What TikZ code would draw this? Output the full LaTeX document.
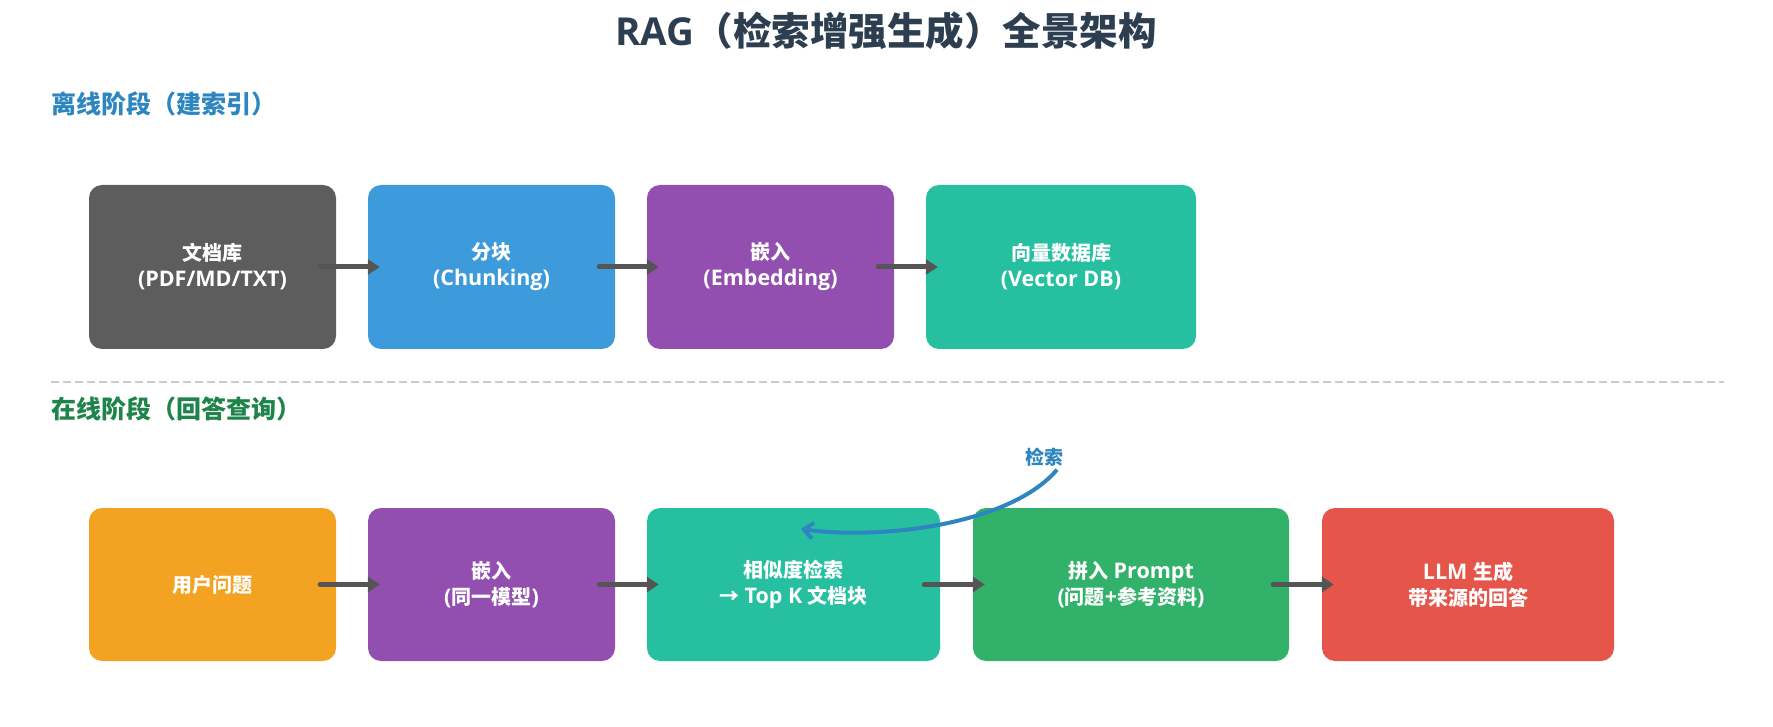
\documentclass[tikz,border=0pt]{standalone}
\usepackage{fontspec}
\setmainfont{Open Sans}
\newfontfamily\cjk{Noto Sans CJK SC}
\newcommand\zh[1]{{\cjk\fontsize{20}{26}\selectfont #1}}
\usetikzlibrary{arrows.meta}
\definecolor{titlecol}{HTML}{2C3E50}
\definecolor{offcol}{HTML}{2E86C1}
\definecolor{oncol}{HTML}{1E8449}
\definecolor{docgray}{HTML}{5D5D5D}
\definecolor{chunkblue}{HTML}{3E9BDB}
\definecolor{embpurple}{HTML}{924FAF}
\definecolor{dbteal}{HTML}{26BF9F}
\definecolor{askorange}{HTML}{F3A221}
\definecolor{promptgreen}{HTML}{31B16A}
\definecolor{llmred}{HTML}{E6554A}
\definecolor{arrgray}{HTML}{555555}
\definecolor{sepgray}{HTML}{CCCCCC}
\begin{document}
\begin{tikzpicture}[x=1pt, y=-1pt,
	stagebox/.style={rounded corners=13pt, text=white, align=center, inner sep=0pt,
		font=\bfseries\fontsize{21.5}{26}\selectfont},
	toprow/.style={stagebox, minimum height=164pt},
	botrow/.style={stagebox, minimum height=153pt},
	flow/.style={-{Triangle[length=12pt,width=15pt]}, line width=5pt, arrgray},
	phase/.style={anchor=west, inner sep=0pt, font=\cjk\bfseries\fontsize{25}{28}\selectfont}]
	\useasboundingbox (0,0) rectangle (1773,727);
	\node[font=\bfseries\fontsize{38.5}{42}\selectfont, text=titlecol] (title) at (886,31) {RAG{\cjk（检索增强生成）全景架构}};
	\node[phase, text=offcol] (offline) at (51,104) {离线阶段（建索引）};
	\node[toprow, fill=docgray, minimum width=247pt] (docs) at (212.5,267) {\zh{文档库}\\(PDF/MD/TXT)};
	\node[toprow, fill=chunkblue, minimum width=247pt] (chunk) at (491.5,267) {\zh{分块}\\(Chunking)};
	\node[toprow, fill=embpurple, minimum width=247pt] (embed) at (770.5,267) {\zh{嵌入}\\(Embedding)};
	\node[toprow, fill=dbteal, minimum width=270pt] (vecdb) at (1061,267) {\zh{向量数据库}\\(Vector DB)};
	\draw[flow, line cap=round] ([xshift=-16pt]docs.east) -- ([xshift=12pt]chunk.west);
	\draw[flow, line cap=round] ([xshift=-16pt]chunk.east) -- ([xshift=12pt]embed.west);
	\draw[flow, line cap=round] ([xshift=-16pt]embed.east) -- ([xshift=12pt]vecdb.west);
	\coordinate (sepL) at (51,382);
	\coordinate (sepR) at (1724,382);
	\draw[sepgray, line width=2pt, dash pattern=on 8pt off 4pt] (sepL) -- (sepR);
	\node[phase, text=oncol] (online) at (51,409) {在线阶段（回答查询）};
	\node[botrow, fill=askorange, minimum width=247pt] (ask) at (212.5,584.5) {\zh{用户问题}};
	\node[botrow, fill=embpurple, minimum width=247pt] (qembed) at (491.5,584.5) {\zh{嵌入}\\(\zh{同一模型})};
	\node[botrow, fill=dbteal, minimum width=293pt] (search) at (793.5,584.5) {\zh{相似度检索}\\\zh{→} Top K \zh{文档块}};
	\node[botrow, fill=promptgreen, minimum width=316pt] (prompt) at (1131,584.5) {\zh{拼入} Prompt\\(\zh{问题}+\zh{参考资料})};
	\node[botrow, fill=llmred, minimum width=292pt] (answer) at (1468,584.5) {LLM \zh{生成}\\\zh{带来源的回答}};
	\draw[flow, line cap=round] ([xshift=-16pt]ask.east) -- ([xshift=12pt]qembed.west);
	\draw[flow, line cap=round] ([xshift=-16pt]qembed.east) -- ([xshift=12pt]search.west);
	\draw[flow, line cap=round] ([xshift=-16pt]search.east) -- ([xshift=12pt]prompt.west);
	\draw[flow, line cap=round] ([xshift=-16pt]prompt.east) -- ([xshift=12pt]answer.west);
	\node[font=\cjk\bfseries\fontsize{19}{22}\selectfont, text=offcol] (fetch) at (1044,457) {检索};
	\coordinate (hit) at (801,529);
	\draw[offcol, line width=4pt, -{Straight Barb[length=9pt,width=16pt]}]
		([xshift=13pt,yshift=0pt]fetch.south) .. controls (1010,525) and (880,540) .. (hit);
\end{tikzpicture}
\end{document}
